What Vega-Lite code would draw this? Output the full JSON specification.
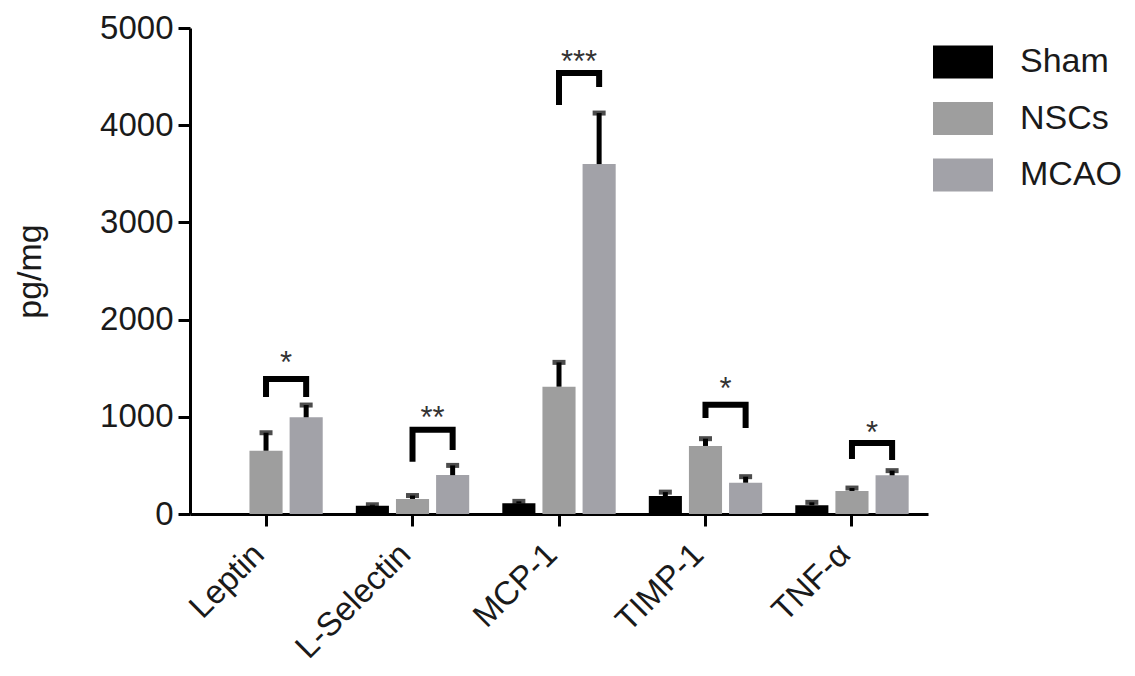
{
  "$schema": "https://vega.github.io/schema/vega-lite/v6.json",
  "width": 738,
  "height": 486,
  "autosize": "none",
  "padding": {"left": 190, "top": 28, "right": 207, "bottom": 162},
  "background": "white",
  "config": {
    "view": {"stroke": null},
    "font": "Liberation Sans",
    "axis": {
      "domainColor": "#000000",
      "domainWidth": 3,
      "tickColor": "#000000",
      "tickWidth": 3,
      "tickSize": 12,
      "labelColor": "#1a1a1a",
      "labelFont": "Liberation Sans",
      "labelFontSize": 33,
      "titleFont": "Liberation Sans",
      "titleFontSize": 34,
      "titleFontWeight": "normal",
      "titleColor": "#1a1a1a",
      "grid": false
    },
    "legend": {
      "orient": "none",
      "legendX": 743,
      "legendY": 4,
      "symbolType": "M-1,-0.55L1,-0.55L1,0.55L-1,0.55Z",
      "symbolSize": 3600,
      "symbolStrokeWidth": 0,
      "labelFont": "Liberation Sans",
      "labelFontSize": 34,
      "labelColor": "#1a1a1a",
      "labelOffset": 27,
      "rowPadding": 9.5,
      "padding": 0
    }
  },
  "datasets": {
    "bars": [
      {"cytokine": "Leptin", "group": "Sham", "value": 0, "upper": 0},
      {"cytokine": "Leptin", "group": "NSCs", "value": 651, "upper": 836},
      {"cytokine": "Leptin", "group": "MCAO", "value": 995, "upper": 1121},
      {"cytokine": "L-Selectin", "group": "Sham", "value": 85, "upper": 95},
      {"cytokine": "L-Selectin", "group": "NSCs", "value": 155, "upper": 190},
      {"cytokine": "L-Selectin", "group": "MCAO", "value": 400, "upper": 500},
      {"cytokine": "MCP-1", "group": "Sham", "value": 110, "upper": 130},
      {"cytokine": "MCP-1", "group": "NSCs", "value": 1310, "upper": 1560},
      {"cytokine": "MCP-1", "group": "MCAO", "value": 3600, "upper": 4125},
      {"cytokine": "TIMP-1", "group": "Sham", "value": 185, "upper": 225},
      {"cytokine": "TIMP-1", "group": "NSCs", "value": 700, "upper": 775},
      {"cytokine": "TIMP-1", "group": "MCAO", "value": 322, "upper": 384},
      {"cytokine": "TNF-α", "group": "Sham", "value": 90, "upper": 120},
      {"cytokine": "TNF-α", "group": "NSCs", "value": 237, "upper": 267},
      {"cytokine": "TNF-α", "group": "MCAO", "value": 398, "upper": 446}
    ],
    "brackets": [
      {"cytokine": "Leptin", "group": "NSCs", "y": 1204, "o": 1},
      {"cytokine": "Leptin", "group": "NSCs", "y": 1389, "o": 2},
      {"cytokine": "Leptin", "group": "MCAO", "y": 1389, "o": 3},
      {"cytokine": "Leptin", "group": "MCAO", "y": 1204, "o": 4},
      {"cytokine": "L-Selectin", "group": "NSCs", "y": 538, "o": 1},
      {"cytokine": "L-Selectin", "group": "NSCs", "y": 867, "o": 2},
      {"cytokine": "L-Selectin", "group": "MCAO", "y": 867, "o": 3},
      {"cytokine": "L-Selectin", "group": "MCAO", "y": 658, "o": 4},
      {"cytokine": "MCP-1", "group": "NSCs", "y": 4208, "o": 1},
      {"cytokine": "MCP-1", "group": "NSCs", "y": 4537, "o": 2},
      {"cytokine": "MCP-1", "group": "MCAO", "y": 4537, "o": 3},
      {"cytokine": "MCP-1", "group": "MCAO", "y": 4393, "o": 4},
      {"cytokine": "TIMP-1", "group": "NSCs", "y": 988, "o": 1},
      {"cytokine": "TIMP-1", "group": "NSCs", "y": 1124, "o": 2},
      {"cytokine": "TIMP-1", "group": "MCAO", "y": 1124, "o": 3},
      {"cytokine": "TIMP-1", "group": "MCAO", "y": 885, "o": 4},
      {"cytokine": "TNF-α", "group": "NSCs", "y": 566, "o": 1},
      {"cytokine": "TNF-α", "group": "NSCs", "y": 730, "o": 2},
      {"cytokine": "TNF-α", "group": "MCAO", "y": 730, "o": 3},
      {"cytokine": "TNF-α", "group": "MCAO", "y": 555, "o": 4}
    ],
    "stars": [
      {"cytokine": "Leptin", "y": 1636, "label": "*"},
      {"cytokine": "L-Selectin", "y": 1070, "label": "**"},
      {"cytokine": "MCP-1", "y": 4733, "label": "***"},
      {"cytokine": "TIMP-1", "y": 1368, "label": "*"},
      {"cytokine": "TNF-α", "y": 916, "label": "*"}
    ]
  },
  "encoding": {
    "x": {
      "field": "cytokine",
      "type": "nominal",
      "sort": ["Leptin", "L-Selectin", "MCP-1", "TIMP-1", "TNF-α"],
      "scale": {"paddingInner": 0.226, "paddingOuter": 0.132},
      "axis": {"title": null, "labelAngle": -45, "labelAlign": "right", "labelBaseline": "alphabetic", "labelPadding": 30}
    }
  },
  "layer": [
    {
      "data": {"name": "bars"},
      "mark": {"type": "bar"},
      "encoding": {
        "xOffset": {"field": "group", "type": "nominal", "sort": ["Sham", "NSCs", "MCAO"], "scale": {"domain": ["Sham", "NSCs", "MCAO"], "paddingInner": 0.175, "paddingOuter": 0}},
        "y": {
          "field": "value",
          "type": "quantitative",
          "scale": {"domain": [0, 5000], "nice": false},
          "axis": {"title": "pg/mg", "format": "d", "values": [0, 1000, 2000, 3000, 4000, 5000], "labelPadding": 5, "titleX": -160, "titleY": 243, "titleAlign": "center", "titleBaseline": "middle"}
        },
        "color": {
          "field": "group",
          "type": "nominal",
          "scale": {"domain": ["Sham", "NSCs", "MCAO"], "range": ["#000000", "#9e9e9e", "#a2a2a8"]},
          "legend": {"title": null}
        }
      }
    },
    {
      "data": {"name": "bars"},
      "transform": [{"filter": "datum.upper > datum.value"}],
      "mark": {"type": "rule", "color": "#000000", "strokeWidth": 5},
      "encoding": {
        "xOffset": {"field": "group", "type": "nominal", "sort": ["Sham", "NSCs", "MCAO"]},
        "y": {"field": "value", "type": "quantitative"},
        "y2": {"field": "upper"}
      }
    },
    {
      "data": {"name": "bars"},
      "transform": [{"filter": "datum.upper > datum.value"}],
      "mark": {"type": "tick", "color": "#000000", "size": 13, "thickness": 5, "orient": "horizontal"},
      "encoding": {
        "xOffset": {"field": "group", "type": "nominal", "sort": ["Sham", "NSCs", "MCAO"]},
        "y": {"field": "upper", "type": "quantitative"}
      }
    },
    {
      "data": {"name": "brackets"},
      "mark": {"type": "line", "color": "#000000", "strokeWidth": 6, "strokeJoin": "miter", "strokeCap": "butt"},
      "encoding": {
        "xOffset": {"field": "group", "type": "nominal", "sort": ["Sham", "NSCs", "MCAO"]},
        "y": {"field": "y", "type": "quantitative"},
        "detail": {"field": "cytokine", "type": "nominal"},
        "order": {"field": "o", "type": "quantitative"}
      }
    },
    {
      "data": {"name": "stars"},
      "mark": {"type": "text", "font": "Liberation Sans", "fontSize": 31, "color": "#333333", "dx": 20, "dy": 18, "baseline": "alphabetic"},
      "encoding": {
        "y": {"field": "y", "type": "quantitative"},
        "text": {"field": "label"}
      }
    }
  ]
}
